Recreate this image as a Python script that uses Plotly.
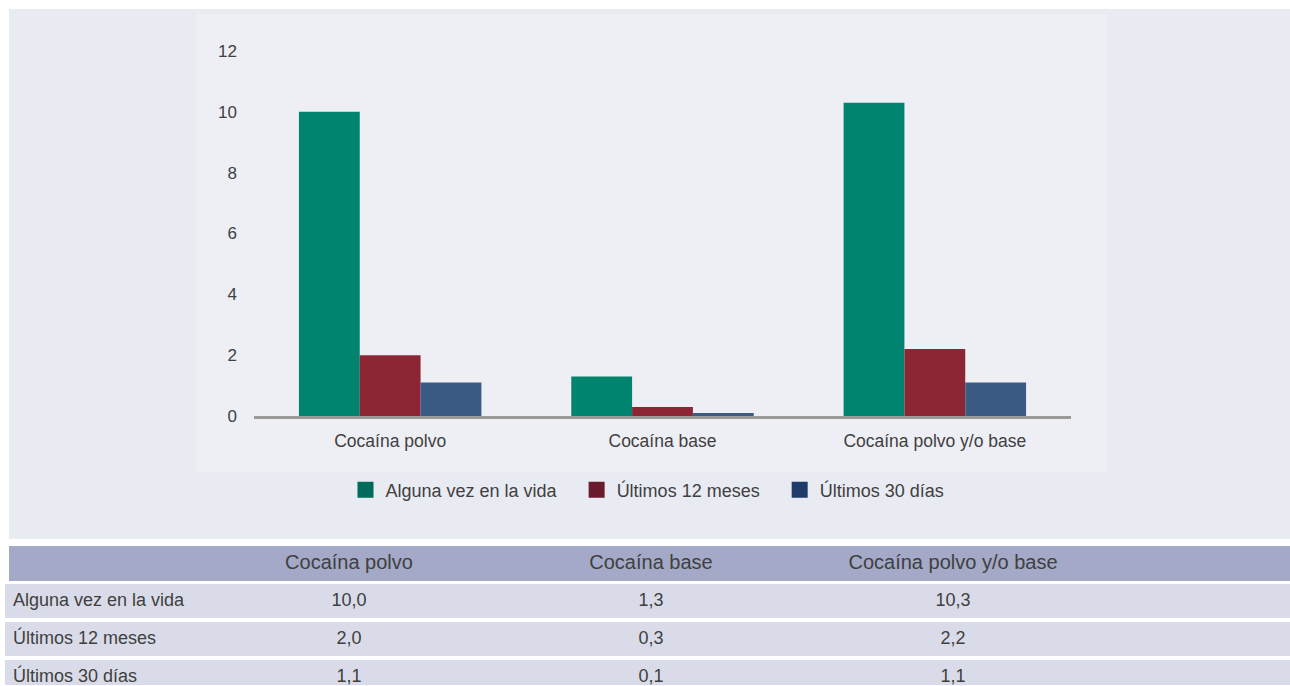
import plotly.graph_objects as go

# ---- data ----
categories = ["Cocaína polvo", "Cocaína base", "Cocaína polvo y/o base"]
series_names = ["Alguna vez en la vida", "Últimos 12 meses", "Últimos 30 días"]
alguna_vez = [10.0, 1.3, 10.3]
ultimos_12 = [2.0, 0.3, 2.2]
ultimos_30 = [1.1, 0.1, 1.1]
y_ticks = [0, 2, 4, 6, 8, 10, 12]

# ---- styles ----
W, H = 1290, 686
bar_colors = ["#00846F", "#8C2634", "#3B5A84"]
legend_colors = ["#006B5B", "#6C1A2E", "#1E3B6A"]
text_color = "#404040"
FONT = "Liberation Sans"
NB = "\u00a0"

def px_x(x):
    return x / W

def px_y(y):
    return 1 - y / H

fig = go.Figure()

series_values = [alguna_vez, ultimos_12, ultimos_30]
for name, vals, col in zip(series_names, series_values, bar_colors):
    fig.add_trace(go.Bar(x=categories, y=vals, name=name, marker=dict(color=col, line=dict(width=0)),
                         showlegend=False, hoverinfo="x+y"))

for name, col in zip(series_names, legend_colors):
    fig.add_trace(go.Scatter(x=[None], y=[None], mode="markers", name=name + NB * 3,
                             marker=dict(symbol="square", size=16, color=col)))

# ---- table ----
def fmt(v):
    return f"{v:.1f}".replace(".", ",")

HEAD_FILL = "#A3A9C6"
ROW_FILL = "#D9DCE8"
header_vals = [""] + categories + [""]
fig.add_trace(go.Table(
    domain=dict(x=[px_x(9), 1], y=[0, px_y(546)]),
    columnwidth=[189, 302, 302, 302, 186],
    header=dict(values=header_vals, fill_color=HEAD_FILL, line=dict(width=1, color=HEAD_FILL),
                align="center", height=34,
                font=dict(family=FONT, size=20, color=text_color)),
    cells=dict(values=[[] for _ in header_vals], line=dict(width=0)),
))

row_tops = [584, 622, 660]
row_heights = [33, 33, 33]
for i, name in enumerate(series_names):
    vals = [name.replace(" ", NB)] + [fmt(v) for v in series_values[i]] + [""]
    fig.add_trace(go.Table(
        domain=dict(x=[px_x(5), 1], y=[0, px_y(row_tops[i])]),
        columnwidth=[193, 302, 302, 302, 186],
        header=dict(values=vals, fill_color=ROW_FILL, line=dict(width=1, color=ROW_FILL),
                    align=["left", "center", "center", "center", "center"],
                    height=row_heights[i],
                    font=dict(family=FONT, size=18, color=text_color)),
        cells=dict(values=[[] for _ in vals], line=dict(width=0)),
    ))

fig.update_layout(
    width=W, height=H,
    margin=dict(l=0, r=0, t=0, b=0, autoexpand=False),
    paper_bgcolor="white",
    plot_bgcolor="rgba(0,0,0,0)",
    font=dict(family=FONT, color=text_color),
    barmode="group",
    bargap=0.33,
    bargroupgap=0,
    xaxis=dict(domain=[px_x(254), px_x(1071)], showline=True, linecolor="#9a9a9a", linewidth=3,
               showgrid=False, zeroline=False, ticks="", tickfont=dict(size=17.5, color=text_color),
               ticklabelstandoff=7, fixedrange=True, automargin=False),
    yaxis=dict(domain=[px_y(416), px_y(51)], range=[0, 12], tickvals=y_ticks,
               showgrid=False, zeroline=False, showline=False, ticks="",
               tickfont=dict(size=17, color=text_color), ticklabelstandoff=16, fixedrange=True,
               automargin=False),
    legend=dict(orientation="h", x=px_x(655), xanchor="center", y=px_y(490), yanchor="middle",
                font=dict(size=18, color=text_color), bgcolor="rgba(0,0,0,0)"),
    shapes=[
        dict(type="rect", xref="paper", yref="paper", x0=px_x(9), x1=1, y0=px_y(539), y1=px_y(9),
             fillcolor="#E9EBF3", line=dict(width=0), layer="below"),
        dict(type="rect", xref="paper", yref="paper", x0=px_x(196), x1=px_x(1107), y0=px_y(472), y1=px_y(14),
             fillcolor="#EEEFF5", line=dict(width=0), layer="below"),
    ],
)

fig.write_html("out.html", config={"displayModeBar": False},
               post_script="document.body.style.margin='0';")
